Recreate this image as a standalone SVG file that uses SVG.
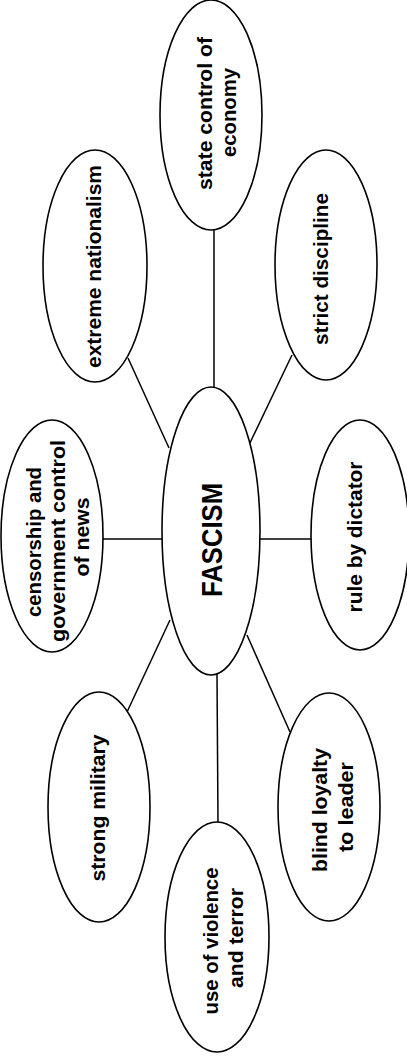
<svg xmlns="http://www.w3.org/2000/svg" width="407" height="1058" viewBox="0 0 407 1058">
<style>
.bg{fill:#ffffff}
.node ellipse{fill:#ffffff;stroke:#000000;stroke-width:1.6}
.edges line{stroke:#000000;stroke-width:1.5}
text{font-family:"Liberation Sans",Arial,sans-serif;font-weight:bold;font-size:21px;fill:#000000;text-anchor:middle}
.title{font-size:29px}
</style>
<rect class="bg" x="0" y="0" width="407" height="1058"/>
<g id="connectors" class="edges">
<line x1="214" y1="229" x2="214" y2="388"/>
<line x1="128" y1="358" x2="169" y2="448"/>
<line x1="292" y1="355" x2="249" y2="445"/>
<line x1="102" y1="539" x2="163" y2="539"/>
<line x1="259" y1="539" x2="312" y2="539"/>
<line x1="170" y1="620" x2="127" y2="712"/>
<line x1="247" y1="635" x2="290" y2="732"/>
<line x1="217" y1="674" x2="218" y2="823"/>
</g>
<g id="fascism" class="node">
<ellipse cx="211" cy="531" rx="49" ry="144"/>
<text class="title" transform="translate(222 540) rotate(-90)" textLength="114" lengthAdjust="spacingAndGlyphs">FASCISM</text>
</g>
<g id="state-control" class="node">
<ellipse cx="211" cy="115" rx="51" ry="115"/>
<text transform="translate(212 113.5) rotate(-90)" textLength="153" lengthAdjust="spacingAndGlyphs">state control of</text>
<text transform="translate(236 112.5) rotate(-90)" textLength="89" lengthAdjust="spacingAndGlyphs">economy</text>
</g>
<g id="extreme-nationalism" class="node">
<ellipse cx="95" cy="266" rx="52" ry="116"/>
<text transform="translate(101 266.5) rotate(-90)" textLength="203" lengthAdjust="spacingAndGlyphs">extreme nationalism</text>
</g>
<g id="strict-discipline" class="node">
<ellipse cx="326" cy="265" rx="51" ry="115"/>
<text transform="translate(328 269) rotate(-90)" textLength="152" lengthAdjust="spacingAndGlyphs">strict discipline</text>
</g>
<g id="censorship" class="node">
<ellipse cx="52" cy="536" rx="51" ry="116"/>
<text transform="translate(41 542) rotate(-90)" textLength="150" lengthAdjust="spacingAndGlyphs">censorship and</text>
<text transform="translate(65 541) rotate(-90)" textLength="202" lengthAdjust="spacingAndGlyphs">government control</text>
<text transform="translate(89 537) rotate(-90)" textLength="79" lengthAdjust="spacingAndGlyphs">of news</text>
</g>
<g id="rule-by-dictator" class="node">
<ellipse cx="360" cy="535" rx="49" ry="115"/>
<text transform="translate(362 537) rotate(-90)" textLength="151" lengthAdjust="spacingAndGlyphs">rule by dictator</text>
</g>
<g id="strong-military" class="node">
<ellipse cx="99" cy="807" rx="51" ry="115"/>
<text transform="translate(105 808) rotate(-90)" textLength="147" lengthAdjust="spacingAndGlyphs">strong military</text>
</g>
<g id="violence-terror" class="node">
<ellipse cx="217" cy="937" rx="52" ry="115"/>
<text transform="translate(218 941) rotate(-90)" textLength="147" lengthAdjust="spacingAndGlyphs">use of violence</text>
<text transform="translate(243 938) rotate(-90)" textLength="100" lengthAdjust="spacingAndGlyphs">and terror</text>
</g>
<g id="blind-loyalty" class="node">
<ellipse cx="329" cy="807" rx="51" ry="114"/>
<text transform="translate(327 810) rotate(-90)" textLength="124" lengthAdjust="spacingAndGlyphs">blind loyalty</text>
<text transform="translate(353 807) rotate(-90)" textLength="90" lengthAdjust="spacingAndGlyphs">to leader</text>
</g>
</svg>
